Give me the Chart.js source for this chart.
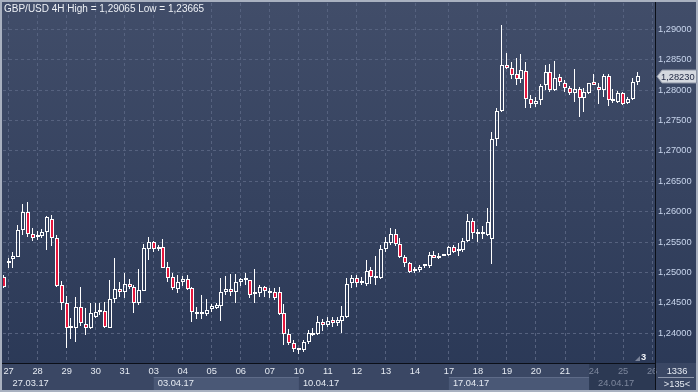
<!DOCTYPE html>
<html>
<head>
<meta charset="utf-8">
<script src="https://cdn.jsdelivr.net/npm/chart.js@4.4.0/dist/chart.umd.min.js"></script>
<style>
  html, body { margin: 0; padding: 0; background: #a9b1c0; overflow: hidden; }
  canvas { display: block; }
</style>
</head>
<body>
<canvas id="gbpChart" width="698" height="392"></canvas>
<script>
// --- DATOS: velas de 4 horas GBP/USD, del domingo 26.03 al 25.04.17 ---
const opens = [
  1.24931, 1.25156, 1.25217, 1.2526, 1.25699, 1.2599, 1.25628, 1.25584, 1.25605, 1.25661,
  1.2588, 1.25563, 1.24794, 1.24493, 1.24092, 1.24092, 1.24437, 1.24148, 1.24082, 1.24273,
  1.24352, 1.24367, 1.24092, 1.24564, 1.24724, 1.24684, 1.24806, 1.24766, 1.24493, 1.24696,
  1.25387, 1.25497, 1.25387, 1.25424, 1.25095, 1.24931, 1.24729, 1.24849, 1.24893, 1.2474,
  1.24355, 1.2431, 1.24313, 1.244, 1.24411, 1.24454, 1.24674, 1.24729, 1.24674, 1.24839,
  1.24872, 1.24872, 1.24651, 1.24658, 1.24757, 1.24658, 1.24684, 1.24684, 1.24329, 1.23984,
  1.23836, 1.23722, 1.23725, 1.23852, 1.23972, 1.23984, 1.24186, 1.24132, 1.24219, 1.24174,
  1.24207, 1.24273, 1.24822, 1.24905, 1.24836, 1.24806, 1.25041, 1.24918, 1.24905, 1.25382,
  1.2549, 1.25633, 1.25469, 1.2525, 1.25151, 1.25025, 1.25041, 1.25104, 1.25112, 1.25296,
  1.2524, 1.25273, 1.25288, 1.25414, 1.25355, 1.25365, 1.25523, 1.25852, 1.2563, 1.2563,
  1.25617, 1.25546, 1.27196, 1.27661, 1.28408, 1.28359, 1.2826, 1.28178, 1.28322, 1.27849,
  1.27766, 1.27837, 1.28079, 1.28303, 1.28002, 1.2821, 1.28112, 1.2803, 1.27947, 1.28013,
  1.27865, 1.27947, 1.28128, 1.28046, 1.28002, 1.28232, 1.27849, 1.27809, 1.27957, 1.27783,
  1.27849, 1.28128
];
const highs = [
  1.24959, 1.25239, 1.25342, 1.25789, 1.26127, 1.26164, 1.25727, 1.25683, 1.25711, 1.25934,
  1.25946, 1.25617, 1.2486, 1.24618, 1.24247, 1.24602, 1.24766, 1.24411, 1.24493, 1.24503,
  1.24503, 1.2451, 1.24877, 1.25243, 1.24839, 1.24997, 1.24893, 1.24794, 1.25053, 1.25464,
  1.25584, 1.25518, 1.25452, 1.25551, 1.25178, 1.24987, 1.24959, 1.24947, 1.24959, 1.24766,
  1.24437, 1.2463, 1.24564, 1.24477, 1.24493, 1.24914, 1.24947, 1.2497, 1.2497, 1.24914,
  1.24987, 1.24877, 1.25058, 1.24794, 1.24783, 1.2474, 1.2474, 1.24766, 1.24477, 1.24071,
  1.2389, 1.23763, 1.2389, 1.24054, 1.24092, 1.24285, 1.2423, 1.24273, 1.24263, 1.24268,
  1.24449, 1.24905, 1.24959, 1.24959, 1.24921, 1.25206, 1.25095, 1.25271, 1.25452, 1.25592,
  1.25727, 1.25715, 1.25576, 1.25288, 1.25178, 1.25086, 1.25123, 1.25148, 1.25342, 1.25354,
  1.25316, 1.2528, 1.25441, 1.25452, 1.2548, 1.25572, 1.25957, 1.25891, 1.25711, 1.25765,
  1.26056, 1.27306, 1.2771, 1.29065, 1.28605, 1.28457, 1.28523, 1.28589, 1.28467, 1.27919,
  1.27891, 1.28095, 1.28413, 1.28429, 1.28484, 1.28265, 1.28166, 1.28067, 1.28347, 1.28056,
  1.2803, 1.28122, 1.2826, 1.28112, 1.28265, 1.2826, 1.28013, 1.2799, 1.27974, 1.27891,
  1.28194, 1.28303
];
const lows = [
  1.24745, 1.25074, 1.25079, 1.2525, 1.25617, 1.25589, 1.25523, 1.25535, 1.25563, 1.2537,
  1.25441, 1.24766, 1.24383, 1.23753, 1.23906, 1.23852, 1.24125, 1.23972, 1.2407, 1.2426,
  1.24301, 1.24092, 1.2408, 1.24493, 1.24602, 1.24576, 1.24729, 1.24329, 1.24465, 1.2469,
  1.25206, 1.25342, 1.25354, 1.25069, 1.24849, 1.24712, 1.24658, 1.24783, 1.24712, 1.24181,
  1.24235, 1.24235, 1.24289, 1.24355, 1.24395, 1.24207, 1.2463, 1.24618, 1.24493, 1.24783,
  1.24794, 1.24586, 1.24493, 1.24602, 1.24602, 1.24586, 1.24548, 1.24301, 1.23808, 1.23808,
  1.23697, 1.23665, 1.23697, 1.23819, 1.2396, 1.2397, 1.24043, 1.24109, 1.24109, 1.2412,
  1.24, 1.2426, 1.2474, 1.24757, 1.24794, 1.24778, 1.24806, 1.24794, 1.2489, 1.25342,
  1.25452, 1.25436, 1.25234, 1.2509, 1.25, 1.24997, 1.25013, 1.25069, 1.25082, 1.25234,
  1.25222, 1.2527, 1.25276, 1.25316, 1.25276, 1.25342, 1.2551, 1.25551, 1.25497, 1.25551,
  1.25605, 1.25135, 1.27086, 1.27645, 1.28347, 1.28178, 1.28084, 1.28112, 1.2771, 1.27701,
  1.27727, 1.27755, 1.28002, 1.27974, 1.2799, 1.28067, 1.27974, 1.27919, 1.27809, 1.27562,
  1.27645, 1.27936, 1.2808, 1.27771, 1.27891, 1.27738, 1.27793, 1.27793, 1.27755, 1.27771,
  1.27837, 1.28084
];
const closes = [
  1.24766, 1.25178, 1.25271, 1.25699, 1.2599, 1.25628, 1.25572, 1.25617, 1.25661, 1.25913,
  1.25563, 1.24783, 1.24493, 1.24082, 1.241, 1.24437, 1.24165, 1.24092, 1.24329, 1.24355,
  1.24358, 1.24109, 1.24564, 1.24729, 1.24679, 1.24806, 1.24766, 1.24493, 1.24712, 1.25408,
  1.25497, 1.25387, 1.25419, 1.25079, 1.24914, 1.2474, 1.24849, 1.24893, 1.24729, 1.24345,
  1.24313, 1.24316, 1.24383, 1.24454, 1.24465, 1.24674, 1.24729, 1.24684, 1.24839, 1.24893,
  1.24893, 1.2463, 1.24674, 1.24757, 1.24696, 1.24701, 1.24586, 1.24313, 1.23984, 1.23836,
  1.23742, 1.23729, 1.23852, 1.24, 1.24, 1.24181, 1.24132, 1.24202, 1.24174, 1.24219,
  1.24285, 1.24806, 1.24905, 1.24832, 1.24842, 1.25025, 1.24921, 1.24924, 1.25382, 1.25502,
  1.25633, 1.25469, 1.2525, 1.25151, 1.25016, 1.25031, 1.25099, 1.2511, 1.25296, 1.25247,
  1.25247, 1.2528, 1.25414, 1.25342, 1.25362, 1.25523, 1.25852, 1.25645, 1.25637, 1.25637,
  1.25836, 1.27196, 1.27661, 1.28408, 1.28359, 1.28243, 1.28178, 1.28326, 1.27849, 1.27766,
  1.27826, 1.28067, 1.28303, 1.28002, 1.28194, 1.28128, 1.2803, 1.27947, 1.28013, 1.27865,
  1.27964, 1.28112, 1.28084, 1.28002, 1.28232, 1.27837, 1.27821, 1.27947, 1.27766, 1.27849,
  1.28128, 1.2823
];

// Etiquetas del eje X: día y posición (índice de vela) donde empieza
const dayLabels = ['27', '28', '29', '30', '31', '03', '04', '05', '06', '07', '10', '11', '12',
  '13', '14', '17', '18', '19', '20', '21', '24', '25', '26'];
const dayTicks = [1, 7, 13, 19, 25, 31, 37, 43, 49, 55, 61, 67, 73, 79, 85, 92, 98, 104, 110,
  116, 122, 128, 134];
const weekLabels = ['27.03.17', '03.04.17', '10.04.17', '17.04.17', '24.04.17'];
const yTicks = [1.24, 1.245, 1.25, 1.255, 1.26, 1.265, 1.27, 1.275, 1.28, 1.285, 1.29];

const title = 'GBP/USD 4H High = 1,29065 Low = 1,23665';
const FONT = "'Liberation Sans', Arial, sans-serif";
const fmt = v => v.toFixed(5).replace('.', ',');

// Construimos las series para Chart.js (cuerpo + mechas como barras flotantes)
const bodyData = opens.map((o, i) => ({ x: i, y: [o, closes[i]] }));
const upperWick = opens.map((o, i) => ({ x: i, y: [Math.max(o, closes[i]), highs[i]] }));
const lowerWick = opens.map((o, i) => ({ x: i, y: [lows[i], Math.min(o, closes[i])] }));
const bodyFill = opens.map((o, i) => closes[i] < o ? '#e5163d' : 'rgba(0,0,0,0)');

// Ajusta las barras a píxeles enteros para que se vean nítidas
const snapBars = {
    id: 'snapBars',
    afterDatasetsUpdate(chart) {
        chart.data.datasets.forEach((ds, di) => {
            chart.getDatasetMeta(di).data.forEach(el => {
                el.x = di === 0 ? Math.round(el.x) : Math.round(el.x) - 0.5;
                el.y = Math.round(el.y);
                el.base = Math.round(el.base);
                if (di === 0 && Math.abs(el.y - el.base) < 2) el.y = el.base - 2;
            });
        });
    }
};

// Fondo, marco, franja de semanas y textos sueltos
const frame = {
    id: 'frame',
    beforeDraw(chart) {
        const { ctx, width, height, chartArea: a, scales: { x } } = chart;
        ctx.save();
        ctx.fillStyle = '#a9b1c0';
        ctx.fillRect(0, 0, width, height);
        const g = ctx.createLinearGradient(0, 2, 0, height - 2);
        g.addColorStop(0, '#414d69');
        g.addColorStop(1, '#2a3856');
        ctx.fillStyle = g;
        ctx.fillRect(2, 2, width - 4, height - 4);

        // franja inferior
        ctx.fillStyle = '#3a4764';
        ctx.fillRect(2, a.bottom, width - 4, height - 2 - a.bottom);
        // semanas resaltadas
        [[5, 10], [15, 20]].forEach(([s, e]) => {
            const x0 = x.getPixelForValue(dayTicks[s]);
            const x1 = x.getPixelForValue(e === 20 ? dayTicks[e] - 1 : dayTicks[e]);
            ctx.fillStyle = '#4a5876';
            ctx.fillRect(x0, 377, x1 - x0, height - 2 - 377);
            ctx.fillStyle = '#5e6b88';
            ctx.fillRect(x0, 377, x1 - x0, 1);
        });
        // semana actual oscurecida
        const xd = x.getPixelForValue(dayTicks[20] - 1);
        ctx.fillStyle = '#2c3953';
        ctx.fillRect(xd, a.bottom, a.right - xd, height - 2 - a.bottom);
        ctx.restore();
    },
    afterDraw(chart) {
        const { ctx, width, height, chartArea: a, scales: { x, y } } = chart;
        ctx.save();
        // líneas negras de los ejes
        ctx.fillStyle = '#0b0f18';
        ctx.fillRect(a.right, 2, 1, height - 4);
        ctx.fillRect(2, a.bottom, a.right - 2, 1);

        ctx.font = '9.3px ' + FONT;
        ctx.textBaseline = 'middle';
        // etiquetas de semana
        weekLabels.forEach((w, i) => {
            ctx.fillStyle = i === 4 ? '#7d879d' : '#e6ebf3';
            ctx.fillText(w, Math.max(x.getPixelForValue(dayTicks[i * 5]) + 4, 10), 383.5);
        });
        // título
        ctx.fillStyle = '#eef1f6';
        ctx.textBaseline = 'alphabetic';
        ctx.font = '10px ' + FONT;
        ctx.fillText(title, 4, 12);

        // etiqueta del último precio
        const last = closes[closes.length - 1];
        const yc = Math.round(y.getPixelForValue(last)) + 0.5;
        ctx.beginPath();
        ctx.moveTo(a.right + 2, yc);
        ctx.lineTo(a.right + 7, yc - 6.5);
        ctx.lineTo(width - 1.5, yc - 6.5);
        ctx.lineTo(width - 1.5, yc + 6.5);
        ctx.lineTo(a.right + 7, yc + 6.5);
        ctx.closePath();
        ctx.fillStyle = '#d4d8df';
        ctx.fill();
        ctx.strokeStyle = '#8c94a5';
        ctx.lineWidth = 1;
        ctx.stroke();
        ctx.fillStyle = '#1e2641';
        ctx.textBaseline = 'middle';
        ctx.font = '9.3px ' + FONT;
        ctx.fillText(fmt(last), a.right + 6, yc + 0.5);

        // marcador "3"
        ctx.fillStyle = '#7b849a';
        ctx.beginPath();
        ctx.moveTo(635, 361); ctx.lineTo(640, 361); ctx.lineTo(640, 356);
        ctx.closePath();
        ctx.fill();
        ctx.fillStyle = '#f2f4f8';
        ctx.font = 'bold 9.3px ' + FONT;
        ctx.fillText('3', 641, 357.5);

        // caja inferior derecha
        ctx.font = '9.3px ' + FONT;
        ctx.textAlign = 'center';
        ctx.fillStyle = '#e6ebf3';
        ctx.fillText('1336', 677, 371);
        ctx.fillStyle = '#8f98ac';
        ctx.fillRect(658, 377, 36, 1);
        ctx.fillStyle = '#e6ebf3';
        ctx.fillText('>135<', 677, 384.5);
        ctx.restore();
    }
};

const gridColor = '#56627f';

// Quita el margen extra que Chart.js reserva para media etiqueta en los extremos
const noEdgePadding = s => {
    s.paddingTop = 0; s.paddingBottom = 0; s.paddingLeft = 0; s.paddingRight = 0;
};

new Chart(document.getElementById('gbpChart'), {
    type: 'bar',
    data: {
        datasets: [{
            label: 'Cuerpo',
            data: bodyData,
            backgroundColor: bodyFill,
            borderColor: '#ffffff',
            borderWidth: 1,
            borderSkipped: false,
            barThickness: 4,
            minBarLength: 2,
            inflateAmount: 0,
            grouped: false
        }, {
            label: 'Mecha alta',
            data: upperWick,
            backgroundColor: '#ffffff',
            borderWidth: 0,
            barThickness: 1,
            inflateAmount: 0,
            grouped: false
        }, {
            label: 'Mecha baja',
            data: lowerWick,
            backgroundColor: '#ffffff',
            borderWidth: 0,
            barThickness: 1,
            inflateAmount: 0,
            grouped: false
        }]
    },
    options: {
        responsive: false,
        animation: false,
        layout: { padding: { left: 3, top: 3, right: 0, bottom: 0 } },
        plugins: {
            legend: { display: false },
            tooltip: { enabled: false }
        },
        scales: {
            x: {
                type: 'linear',
                min: -0.15,
                max: 134.6,
                offset: false,
                afterBuildTicks: s => { s.ticks = dayTicks.map(v => ({ value: v })); },
                afterFit: s => { s.height = 29; noEdgePadding(s); },
                grid: { color: gridColor, drawTicks: false, offset: false },
                border: { display: false, dash: [3, 3] },
                ticks: {
                    autoSkip: false,
                    maxRotation: 0,
                    padding: 3,
                    color: c => c.index >= 20 ? '#7d879d' : '#e6ebf3',
                    font: { family: FONT, size: 9.3 },
                    callback: (v, i) => dayLabels[i]
                }
            },
            y: {
                position: 'right',
                min: 1.23512,
                max: 1.29433,
                afterBuildTicks: s => { s.ticks = yTicks.map(v => ({ value: v })); },
                afterFit: s => { s.width = 43; noEdgePadding(s); },
                grid: { color: gridColor, drawTicks: false },
                border: { display: false, dash: [3, 3] },
                ticks: {
                    padding: 3,
                    color: '#c8d5ec',
                    font: { family: FONT, size: 9.3 },
                    callback: v => fmt(v)
                }
            }
        }
    },
    plugins: [snapBars, frame]
});
</script>
</body>
</html>
